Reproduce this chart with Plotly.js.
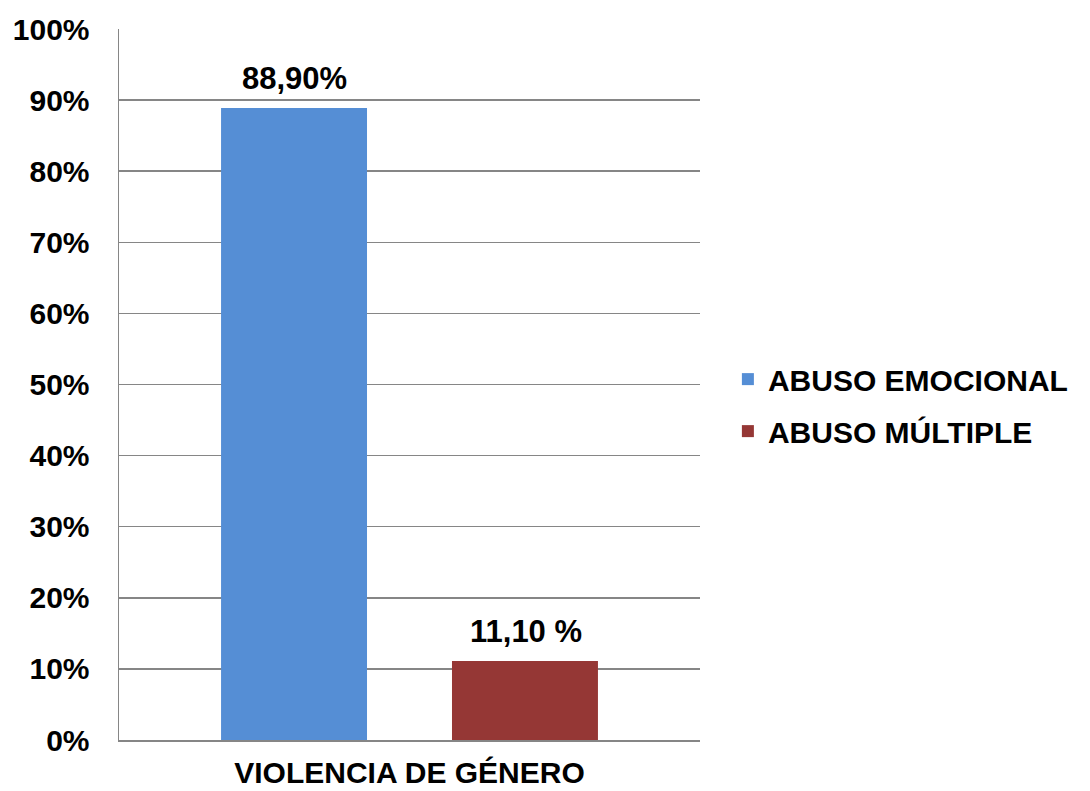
<!DOCTYPE html>
<html>
<head>
<meta charset="utf-8">
<script src="https://cdn.plot.ly/plotly-3.0.1.min.js"></script>
<style>html,body{margin:0;padding:0;background:#fff;}#chart{width:1090px;height:791px;}</style>
</head>
<body>
<div id="chart"></div>
<script>
const categories = ["VIOLENCIA DE GÉNERO"];
const seriesNames = ["ABUSO EMOCIONAL", "ABUSO MÚLTIPLE"];
const seriesValues = [0.889, 0.111];
const seriesLabels = ["88,90%", "11,10 %"];
const seriesColors = ["#558ED5", "#953735"];
const yTickVals = [0, 0.1, 0.2, 0.3, 0.4, 0.5, 0.6, 0.7, 0.8, 0.9, 1.0];
const yTickText = ["0%", "10%", "20%", "30%", "40%", "50%", "60%", "70%", "80%", "90%", "100%"];

const FONT = "Liberation Sans, Arial, sans-serif";
const labelShift = [-115.5, 116.5];

const traces = seriesNames.map((name, i) => ({
  type: "bar",
  name: name,
  x: categories,
  y: [seriesValues[i]],
  marker: {color: seriesColors[i], line: {width: 0}},
  legendgroup: "g" + i,
  hoverinfo: "none"
}));

const annotations = seriesNames.map((name, i) => ({
  x: categories[0],
  y: seriesValues[i],
  xref: "x", yref: "y",
  text: "<b>" + seriesLabels[i] + "</b>",
  showarrow: false,
  xanchor: "center",
  yanchor: "bottom",
  xshift: labelShift[i],
  yshift: 10,
  font: {family: FONT, size: 31, color: "#000"}
}));

const layout = {
  width: 1090, height: 791,
  margin: {l: 119, r: 390, t: 29, b: 51, pad: 0, autoexpand: false},
  paper_bgcolor: "#fff", plot_bgcolor: "#fff",
  barmode: "group",
  bargap: 0.205,
  bargroupgap: 0.368,
  showlegend: true,
  legend: {
    x: 1.048, xanchor: "left", y: 0.471, yanchor: "middle",
    font: {family: FONT, size: 30, color: "#000", weight: "bold"},
    traceorder: "grouped", tracegroupgap: 10,
    itemwidth: 30, borderwidth: 0, bgcolor: "rgba(0,0,0,0)"
  },
  xaxis: {
    type: "category",
    showgrid: false, zeroline: false,
    showline: true, linecolor: "#868686", linewidth: 1.5,
    ticks: "", ticklen: 0, ticklabelstandoff: 5,
    tickfont: {family: FONT, size: 30, color: "#000", weight: "bold"},
    fixedrange: true
  },
  yaxis: {
    range: [0, 1],
    tickvals: yTickVals, ticktext: yTickText,
    showgrid: true, gridcolor: "#868686", gridwidth: 1.5,
    zeroline: false,
    showline: true, linecolor: "#868686", linewidth: 1.5,
    ticks: "", ticklen: 0, ticklabelstandoff: 22,
    tickfont: {family: FONT, size: 30, color: "#000", weight: "bold"},
    fixedrange: true
  },
  annotations: annotations
};

Plotly.newPlot("chart", traces, layout, {displayModeBar: false, staticPlot: true});
</script>
</body>
</html>
